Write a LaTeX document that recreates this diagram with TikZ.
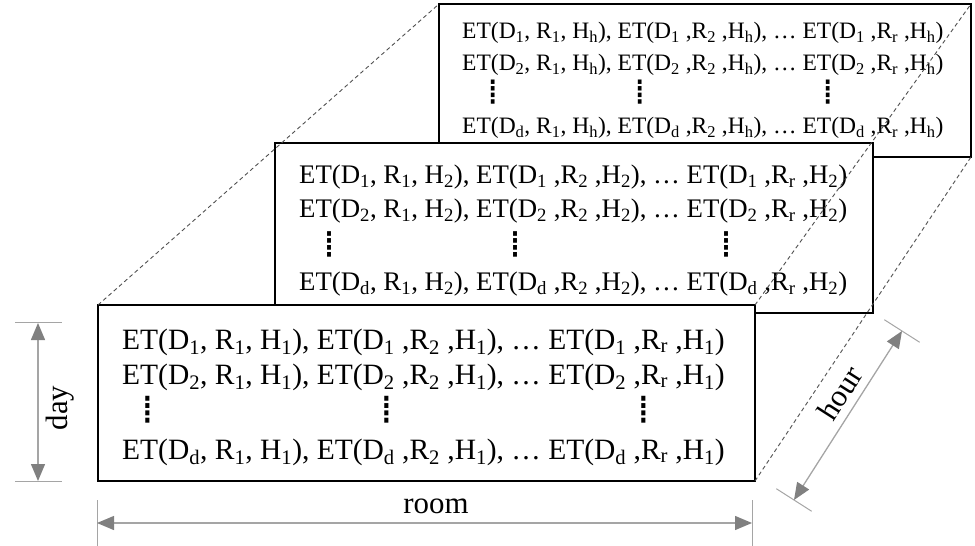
\documentclass[tikz,border=0pt]{standalone}
\usepackage{fontspec}
\setmainfont{Liberation Serif}
\newfontfamily\dotfont{DejaVu Sans}
\usetikzlibrary{arrows.meta, positioning, calc}

\definecolor{dimline}{RGB}{165,165,165}
\definecolor{dimtip}{RGB}{128,128,128}
\definecolor{guideline}{RGB}{80,80,80}

\newcommand{\etrow}[2]{ET(D\textsubscript{#1}, R\textsubscript{1}, H\textsubscript{#2}), ET(D\textsubscript{#1} ,R\textsubscript{2} ,H\textsubscript{#2}), … ET(D\textsubscript{#1} ,R\textsubscript{r} ,H\textsubscript{#2})}

\begin{document}
\begin{tikzpicture}[
  x=1bp, y=-1bp, >={Triangle[length=17bp,width=14bp,color=dimtip]},
  box/.style={draw, line width=2.4bp, fill=white, inner sep=0pt, outer sep=0pt},
  row/.style={anchor=west, inner sep=0pt},
  vdots/.style={inner sep=0pt, font=\dotfont\fontsize{#1}{#1}\selectfont},
  text_h/.style={font=\fontsize{23.6}{28}\selectfont},
  text_2/.style={font=\fontsize{26.9}{31}\selectfont},
  text_1/.style={font=\fontsize{29.6}{34}\selectfont},
  guide/.style={draw=guideline, line width=0.9bp, dash pattern=on 4bp off 3bp},
  dim/.style={<->, draw=dimline, line width=1.3bp},
  tick/.style={draw=dimline, line width=1bp},
  label/.style={inner sep=0pt, font=\fontsize{31}{36}\selectfont},
  ]
  \useasboundingbox (0,0) rectangle (975,546);

  % hour h
  \node[box, minimum width=532bp, minimum height=153bp] (box_h) at (705,80.5) {};
  \node[row, text_h] (h_r1) at (462,33)  {\etrow{1}{h}};
  \node[row, text_h] (h_r2) at (462,65)  {\etrow{2}{h}};
  \node[row, text_h] (h_rd) at (462,128) {\etrow{d}{h}};
  \node[vdots=36] (h_v1) at (493,92) {⁞};
  \node[vdots=36] (h_v2) at (640,92) {⁞};
  \node[vdots=36] (h_v3) at (828,92) {⁞};

  % hour 2
  \node[box, minimum width=598bp, minimum height=170bp] (box_2) at (574,228) {};
  \node[row, text_2] (m_r1) at (299,177) {\etrow{1}{2}};
  \node[row, text_2] (m_r2) at (299,211) {\etrow{2}{2}};
  \node[row, text_2] (m_rd) at (299,284) {\etrow{d}{2}};
  \node[vdots=38] (m_v1) at (330,245) {⁞};
  \node[vdots=38] (m_v2) at (516,245) {⁞};
  \node[vdots=38] (m_v3) at (727,245) {⁞};

  % hour 1
  \node[box, minimum width=657bp, minimum height=176bp] (box_1) at (426.5,393) {};
  \node[row, text_1] (f_r1) at (122,342) {\etrow{1}{1}};
  \node[row, text_1] (f_r2) at (122,377) {\etrow{2}{1}};
  \node[row, text_1] (f_rd) at (122,452) {\etrow{d}{1}};
  \node[vdots=40] (f_v1) at (148,410) {⁞};
  \node[vdots=40] (f_v2) at (387,410) {⁞};
  \node[vdots=40] (f_v3) at (644,410) {⁞};

  \draw[guide] (box_1.north west) -- (box_h.north west);
  \draw[guide] (box_1.north east) -- (box_h.north east);
  \draw[guide] (box_1.south east) -- (box_h.south east);

  % dimensions
  \coordinate (day_top) at (38,323);
  \coordinate (day_bot) at (38,481);
  \coordinate (room_l) at (97,523);
  \coordinate (room_r) at (752,523);
  \coordinate (hour_a) at (794,500);
  \coordinate (hour_b) at (902,331);

  \draw[tick] ($(day_top)+(-23,0)$) -- ($(day_top)+(24,0)$);
  \draw[tick] ($(day_bot)+(-23,0)$) -- ($(day_bot)+(24,0)$);
  \draw[tick] ($(room_l)+(0,-23)$) -- ($(room_l)+(0,23)$);
  \draw[tick] ($(room_r)+(0,-23)$) -- ($(room_r)+(0,23)$);
  \draw[tick] ($(hour_a)+(-17.7,-11.3)$) -- ($(hour_a)+(17.7,11.3)$);
  \draw[tick] ($(hour_b)+(-17.7,-11.3)$) -- ($(hour_b)+(17.7,11.3)$);

  \draw[dim] (day_top) -- (day_bot);
  \draw[dim] (room_l) -- (room_r);
  \draw[dim] (hour_a) -- (hour_b);

  \node[label, rotate=90] (day_lbl) at (60,408) {day};
  \node[label] (room_lbl) at (436,506) {room};
  \node[label, rotate=57.4] (hour_lbl) at (840,393) {hour};
\end{tikzpicture}
\end{document}
